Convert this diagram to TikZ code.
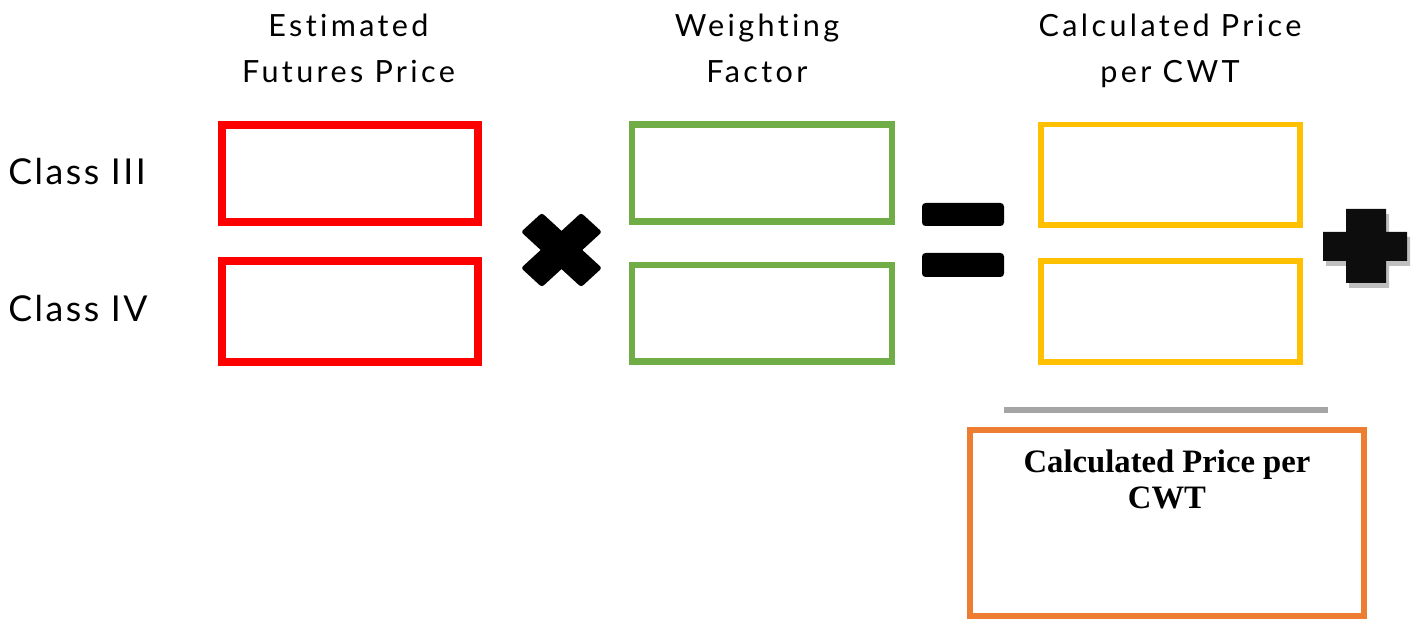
\documentclass[tikz,border=0pt]{standalone}
\usepackage{fontspec}
\setmainfont{Lato}
\newfontfamily\headfont[LetterSpace=11, Ligatures=CommonOff]{Lato}
\newfontfamily\rowfont[LetterSpace=7, Ligatures=CommonOff]{Lato}
\newfontfamily\serifbold{Liberation Serif}
\definecolor{boxred}{HTML}{FF0000}
\definecolor{boxgreen}{HTML}{70AD47}
\definecolor{boxyellow}{HTML}{FFC000}
\definecolor{boxorange}{HTML}{ED7D31}
\definecolor{rulegray}{HTML}{A5A5A5}
\definecolor{shadowgray}{HTML}{BFBFBF}
\definecolor{plusblack}{HTML}{0D0D0D}
\tikzset{
  box/.style={draw, fill=none, inner sep=0pt, outer sep=0pt},
  redbox/.style={box, draw=boxred, line width=4.7pt, minimum width=5.12cm},
  greenbox/.style={box, draw=boxgreen, line width=3.7pt, minimum width=5.2cm, minimum height=1.94cm},
  yellowbox/.style={box, draw=boxyellow, line width=3.4pt, minimum width=5.18cm, minimum height=2.02cm},
  orangebox/.style={box, draw=boxorange, line width=3.4pt, minimum width=7.89cm, minimum height=3.72cm},
  header/.style={font=\headfont\fontsize{17.4}{26}\selectfont, align=center, inner sep=0pt, anchor=north},
  rowlabel/.style={font=\rowfont\fontsize{20.3}{24}\selectfont, inner sep=0pt, anchor=base west},
  resultlabel/.style={font=\serifbold\bfseries\fontsize{18.6}{20.7}\selectfont, align=center, inner sep=0pt, anchor=north},
  opfill/.style={fill=black}
}
\begin{document}
\begin{tikzpicture}[x=0.02cm, y=-0.02cm]
\useasboundingbox (0,0) rectangle (1417,621);

% headers
\node[header] (h1) at (348.5,14) {Estimated\\Futures Price};
\node[header] (h2) at (757,14) {Weighting\\Factor};
\node[header] (h3) at (1170,14) {Calculated Price\\per CWT};

% row labels
\node[rowlabel] (l3) at (8,185) {Class III};
\node[rowlabel] (l4) at (8,321.7) {Class IV};

% boxes
\node[redbox, minimum height=1.94cm] (r1) at (350,173.5) {};
\node[redbox, minimum height=2.02cm] (r2) at (350,311.5) {};
\node[greenbox] (g1) at (762,173) {};
\node[greenbox] (g2) at (762,313.25) {};
\node[yellowbox, minimum height=2.01cm] (y1) at (1170.5,174.75) {};
\node[yellowbox] (y2) at (1170.5,311.5) {};

% multiply sign
\begin{scope}[shift={(561.5,250)}, xscale=1.09]
  \fill[opfill, rounded corners=1.5pt, rotate=45] (-39,-13.5) -- (39,-13.5) -- (39,13.5) -- (-39,13.5) -- cycle;
  \fill[opfill, rounded corners=1.5pt, rotate=-45] (-39,-13.5) -- (39,-13.5) -- (39,13.5) -- (-39,13.5) -- cycle;
\end{scope}

% equals sign
\fill[opfill, rounded corners=2pt] (922,203) rectangle (1004,226);
\fill[opfill, rounded corners=2pt] (922,253) rectangle (1004,277);

% plus sign with shadow
\fill[shadowgray, shift={(3,5)}]
  (1346,209) -- (1386,209) -- (1386,232) -- (1407,232) -- (1407,261) -- (1386,261)
  -- (1386,283) -- (1346,283) -- (1346,261) -- (1323,261) -- (1323,232) -- (1346,232) -- cycle;
\fill[plusblack]
  (1346,209) -- (1386,209) -- (1386,232) -- (1407,232) -- (1407,261) -- (1386,261)
  -- (1386,283) -- (1346,283) -- (1346,261) -- (1323,261) -- (1323,232) -- (1346,232) -- cycle;

% sum rule
\coordinate (s1) at (1004,410);
\coordinate (s2) at (1328,410);
\draw[rulegray, line width=3.4pt] (s1) -- (s2);

% result box
\node[orangebox] (res) at (1167,523) {};
\node[resultlabel] (rt) at (1167,449) {Calculated Price per\\CWT};
\end{tikzpicture}
\end{document}
